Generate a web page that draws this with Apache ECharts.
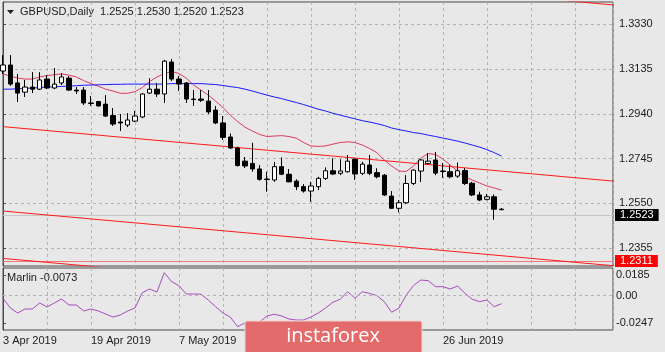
<!DOCTYPE html>
<html>
<head>
<meta charset="utf-8">
<title>GBPUSD Daily</title>
<script src="https://cdn.jsdelivr.net/npm/echarts@6/dist/echarts.min.js"></script>
<style>
  html, body { margin: 0; padding: 0; background: #e8e8e8; }
  #chart { width: 665px; height: 352px; }
</style>
</head>
<body>
<div id="chart"></div>
<script>
// daily bars, 3 Apr 2019 .. 8 Jul 2019
const dates = [
  '3 Apr 2019', '4 Apr 2019', '5 Apr 2019', '8 Apr 2019', '9 Apr 2019', '10 Apr 2019', '11 Apr 2019', '12 Apr 2019',
  '15 Apr 2019', '16 Apr 2019', '17 Apr 2019', '18 Apr 2019', '19 Apr 2019', '22 Apr 2019', '23 Apr 2019', '24 Apr 2019',
  '25 Apr 2019', '26 Apr 2019', '29 Apr 2019', '30 Apr 2019', '1 May 2019', '2 May 2019', '3 May 2019', '6 May 2019',
  '7 May 2019', '8 May 2019', '9 May 2019', '10 May 2019', '13 May 2019', '14 May 2019', '15 May 2019', '16 May 2019',
  '17 May 2019', '20 May 2019', '21 May 2019', '22 May 2019', '23 May 2019', '24 May 2019', '27 May 2019', '28 May 2019',
  '29 May 2019', '30 May 2019', '31 May 2019', '3 Jun 2019', '4 Jun 2019', '5 Jun 2019', '6 Jun 2019', '7 Jun 2019',
  '10 Jun 2019', '11 Jun 2019', '12 Jun 2019', '13 Jun 2019', '14 Jun 2019', '17 Jun 2019', '18 Jun 2019', '19 Jun 2019',
  '20 Jun 2019', '21 Jun 2019', '24 Jun 2019', '25 Jun 2019', '26 Jun 2019', '27 Jun 2019', '28 Jun 2019', '1 Jul 2019',
  '2 Jul 2019', '3 Jul 2019', '4 Jul 2019', '5 Jul 2019', '8 Jul 2019'
]

const open = [
  1.3126, 1.3152, 1.3074, 1.3034, 1.3056, 1.3047, 1.3091, 1.3052, 1.3074, 1.3095,
  1.3043, 1.3043, 1.2987, 1.2993, 1.2982, 1.2932, 1.2904, 1.2891, 1.2908, 1.2926,
  1.3030, 1.3047, 1.3026, 1.3165, 1.3091, 1.3074, 1.3004, 1.3004, 1.2995, 1.2956,
  1.2900, 1.2839, 1.2791, 1.2734, 1.2724, 1.2700, 1.2656, 1.2652, 1.2710, 1.2677,
  1.2647, 1.2623, 1.2604, 1.2623, 1.2659, 1.2692, 1.2681, 1.2688, 1.2742, 1.2681,
  1.2717, 1.2684, 1.2673, 1.2582, 1.2529, 1.2553, 1.2637, 1.2691, 1.2724, 1.2739,
  1.2691, 1.2688, 1.2669, 1.2693, 1.2638, 1.2587, 1.2568, 1.2579, 1.2525
]
const high = [
  1.3195, 1.3195, 1.3113, 1.3087, 1.3121, 1.3121, 1.3108, 1.3139, 1.3117, 1.3104,
  1.3056, 1.3056, 1.3017, 1.2995, 1.3021, 1.2965, 1.2939, 1.2943, 1.2952, 1.3030,
  1.3095, 1.3074, 1.3174, 1.3178, 1.3104, 1.3078, 1.3043, 1.3043, 1.3043, 1.2974,
  1.2930, 1.2854, 1.2797, 1.2752, 1.2814, 1.2717, 1.2688, 1.2731, 1.2750, 1.2700,
  1.2655, 1.2634, 1.2644, 1.2666, 1.2707, 1.2746, 1.2742, 1.2761, 1.2746, 1.2731,
  1.2761, 1.2703, 1.2678, 1.2604, 1.2565, 1.2673, 1.2698, 1.2743, 1.2769, 1.2774,
  1.2726, 1.2717, 1.2728, 1.2704, 1.2644, 1.2601, 1.2591, 1.2589, 1.2530
]
const low = [
  1.3113, 1.3061, 1.2991, 1.3013, 1.3030, 1.3043, 1.3047, 1.3047, 1.3065, 1.3039,
  1.3026, 1.2978, 1.2974, 1.2971, 1.2926, 1.2887, 1.2865, 1.2882, 1.2904, 1.2921,
  1.3026, 1.3013, 1.2987, 1.3082, 1.3039, 1.2987, 1.2974, 1.2991, 1.2939, 1.2895,
  1.2826, 1.2787, 1.2710, 1.2704, 1.2688, 1.2649, 1.2601, 1.2644, 1.2673, 1.2642,
  1.2608, 1.2597, 1.2557, 1.2608, 1.2652, 1.2673, 1.2673, 1.2684, 1.2652, 1.2673,
  1.2673, 1.2659, 1.2582, 1.2526, 1.2511, 1.2547, 1.2630, 1.2643, 1.2717, 1.2673,
  1.2661, 1.2659, 1.2661, 1.2630, 1.2582, 1.2560, 1.2563, 1.2479, 1.2520
]
const close = [
  1.3152, 1.3069, 1.3030, 1.3056, 1.3047, 1.3087, 1.3052, 1.3069, 1.3100, 1.3043,
  1.3039, 1.2987, 1.2985, 1.2974, 1.2930, 1.2895, 1.2900, 1.2913, 1.2930, 1.3026,
  1.3047, 1.3026, 1.3169, 1.3091, 1.3069, 1.3004, 1.3002, 1.2999, 1.2948, 1.2900,
  1.2837, 1.2791, 1.2715, 1.2713, 1.2700, 1.2655, 1.2654, 1.2710, 1.2677, 1.2644,
  1.2623, 1.2604, 1.2626, 1.2659, 1.2692, 1.2678, 1.2691, 1.2734, 1.2678, 1.2721,
  1.2681, 1.2666, 1.2587, 1.2529, 1.2553, 1.2637, 1.2695, 1.2739, 1.2734, 1.2682,
  1.2689, 1.2666, 1.2692, 1.2637, 1.2587, 1.2565, 1.2579, 1.2525, 1.2523
]

// moving averages as drawn on the chart
const maRed = [
  1.3113, 1.3104, 1.3095, 1.3091, 1.3091, 1.3100, 1.3106, 1.3110, 1.3113, 1.3108,
  1.3100, 1.3084, 1.3071, 1.3060, 1.3047, 1.3039, 1.3029, 1.3029, 1.3036, 1.3054,
  1.3080, 1.3100, 1.3115, 1.3124, 1.3115, 1.3095, 1.3065, 1.3043, 1.3021, 1.2995,
  1.2967, 1.2934, 1.2906, 1.2882, 1.2865, 1.2850, 1.2841, 1.2843, 1.2845, 1.2841,
  1.2834, 1.2815, 1.2800, 1.2798, 1.2800, 1.2808, 1.2815, 1.2818, 1.2815, 1.2804,
  1.2789, 1.2771, 1.2739, 1.2713, 1.2691, 1.2689, 1.2713, 1.2747, 1.2767, 1.2763,
  1.2743, 1.2717, 1.2691, 1.2665, 1.2652, 1.2639, 1.2626, 1.2617, 1.2608
]
const maBlue = [
  1.3047, 1.3047, 1.3049, 1.3050, 1.3052, 1.3054, 1.3056, 1.3057, 1.3059, 1.3060,
  1.3062, 1.3064, 1.3065, 1.3066, 1.3067, 1.3068, 1.3068, 1.3069, 1.3069, 1.3069,
  1.3069, 1.3069, 1.3069, 1.3071, 1.3071, 1.3071, 1.3071, 1.3071, 1.3069, 1.3067,
  1.3063, 1.3058, 1.3054, 1.3047, 1.3039, 1.3030, 1.3021, 1.3013, 1.3006, 1.2997,
  1.2989, 1.2980, 1.2970, 1.2960, 1.2952, 1.2942, 1.2934, 1.2926, 1.2918, 1.2910,
  1.2904, 1.2897, 1.2889, 1.2878, 1.2871, 1.2865, 1.2858, 1.2854, 1.2847, 1.2841,
  1.2834, 1.2828, 1.2821, 1.2813, 1.2804, 1.2795, 1.2784, 1.2771, 1.2756
]

const marlin = [
  -0.0024, -0.0112, -0.0157, -0.0121, -0.0121, -0.0067, -0.0103, -0.0067, -0.0031, -0.0085,
  -0.0085, -0.0139, -0.0121, -0.0139, -0.0166, -0.0193, -0.0175, -0.0139, -0.0112, 0.0026,
  0.0059, 0.0032, 0.0206, 0.0125, 0.0089, 0.0014, 0.0014, 0.0012, -0.0040, -0.0100,
  -0.0157, -0.0193, -0.0280, -0.0247, -0.0274, -0.0238, -0.0184, -0.0168, -0.0184, -0.0211,
  -0.0220, -0.0220, -0.0193, -0.0157, -0.0112, -0.0060, -0.0033, 0.0035, -0.0024, 0.0035,
  0.0019, -0.0001, -0.0055, -0.0150, -0.0114, 0.0005, 0.0091, 0.0140, 0.0134, 0.0080,
  0.0080, 0.0059, 0.0086, 0.0021, -0.0033, -0.0055, -0.0040, -0.0100, -0.0073
]

const priceTicks = [1.2355, 1.2550, 1.2745, 1.2940, 1.3135, 1.3330]
const marlinTicks = [-0.0247, 0, 0.0185]

// trend channel, price at bar 0 and bar 84
const trendBars = [0, 84]
const trendTop = [1.3650, 1.3411]
const trendUpper = [1.2884, 1.2645]
const trendLower = [1.2517, 1.2277]
const trendBottom = [1.2311, 1.2071]

const lastPrice = 1.2523
const levelPrice = 1.2311

const FONT = '"Liberation Sans", Arial, sans-serif'
const TEXT = '#1c1c1c'
const BORDER = '#4a4a4a'
const gridLine = { show: true, lineStyle: { color: '#b4b4b4', width: 1, type: [3, 3] } }
const X_MAX = 83.2

const last = dates.length - 1
const ohlcText = [open[last], high[last], low[last], close[last]].map((v) => v.toFixed(4)).join(' ')

function trendSeries(vals) {
  return {
    type: 'line',
    xAxisIndex: 0,
    yAxisIndex: 0,
    data: trendBars.map((b, k) => [b, vals[k]]),
    showSymbol: false,
    silent: true,
    z: 4,
    lineStyle: { color: '#ff1a1a', width: 1 },
  }
}

function levelLine(value, color, boxColor) {
  return {
    yAxis: value,
    lineStyle: { color: color, width: 1, type: 'solid' },
    label: {
      show: true,
      position: 'end',
      distance: 2,
      formatter: () => value.toFixed(4),
      color: '#ffffff',
      backgroundColor: boxColor,
      padding: [1, 5, 0, 5],
      fontSize: 11,
      fontFamily: FONT,
    },
  }
}

const chart = echarts.init(document.getElementById('chart'))

chart.setOption({
  animation: false,
  backgroundColor: '#e8e8e8',
  textStyle: { fontFamily: FONT },
  grid: [
    { left: 3, top: 2, width: 610, height: 264, show: true, borderColor: BORDER, borderWidth: 1, backgroundColor: 'transparent' },
    { left: 3, top: 268, width: 610, height: 62, show: true, borderColor: BORDER, borderWidth: 1, backgroundColor: 'transparent' },
  ],
  xAxis: [
    {
      gridIndex: 0, type: 'value', min: 0, max: X_MAX, interval: 6,
      axisLine: { show: false }, axisTick: { show: false }, axisLabel: { show: false },
      splitLine: gridLine,
    },
    {
      gridIndex: 1, type: 'value', min: 0, max: X_MAX, interval: 6,
      axisLine: { show: false }, axisTick: { show: false },
      axisLabel: {
        show: true, align: 'left', margin: 5, fontSize: 11, color: TEXT, fontFamily: FONT,
        showMinLabel: true, showMaxLabel: true,
        formatter: (v) => (Number.isInteger(v) && v % 12 === 0 && dates[v]) ? dates[v] : '',
      },
      splitLine: gridLine,
    },
  ],
  yAxis: [
    {
      gridIndex: 0, type: 'value', position: 'right', min: 1.2278, max: 1.3426,
      axisLine: { show: true, lineStyle: { color: BORDER } },
      axisTick: { show: true, length: 3, customValues: priceTicks, lineStyle: { color: BORDER } },
      axisLabel: {
        customValues: priceTicks, margin: 6, fontSize: 11, color: TEXT, fontFamily: FONT,
        formatter: (v) => v.toFixed(4),
      },
      splitLine: gridLine,
    },
    {
      gridIndex: 1, type: 'value', position: 'right', min: -0.0310, max: 0.0248,
      axisLine: { show: true, lineStyle: { color: BORDER } },
      axisTick: { show: true, length: 3, customValues: marlinTicks, lineStyle: { color: BORDER } },
      axisLabel: {
        customValues: marlinTicks, margin: 3, fontSize: 11, color: TEXT, fontFamily: FONT,
        formatter: (v) => (v === 0 ? '0.00' : v.toFixed(4)),
      },
      splitLine: { show: false },
    },
  ],
  series: [
    {
      // horizontal levels with their price boxes
      type: 'line',
      xAxisIndex: 0,
      yAxisIndex: 0,
      data: [],
      clip: false,
      z: 6,
      markLine: {
        silent: true,
        symbol: ['none', 'none'],
        animation: false,
        z: 1,
        data: [
          levelLine(lastPrice, '#c6c6c6', '#000000'),
          levelLine(levelPrice, '#f27a7a', '#ff0000'),
        ],
      },
    },
    trendSeries(trendTop),
    trendSeries(trendUpper),
    trendSeries(trendLower),
    trendSeries(trendBottom),
    {
      name: 'MA red',
      type: 'line',
      xAxisIndex: 0,
      yAxisIndex: 0,
      data: maRed.map((v, i) => [i, v]),
      showSymbol: false,
      silent: true,
      z: 3,
      lineStyle: { color: '#e03a5c', width: 1 },
    },
    {
      name: 'MA blue',
      type: 'line',
      xAxisIndex: 0,
      yAxisIndex: 0,
      data: maBlue.map((v, i) => [i, v]),
      showSymbol: false,
      silent: true,
      z: 3,
      lineStyle: { color: '#1a1aff', width: 1 },
    },
    {
      name: 'GBPUSD',
      type: 'candlestick',
      xAxisIndex: 0,
      yAxisIndex: 0,
      data: dates.map((d, i) => [i, open[i], close[i], low[i], high[i]]),
      encode: { x: 0, y: [1, 2, 3, 4] },
      barWidth: 5,
      z: 5,
      itemStyle: {
        color: '#ffffff',
        color0: '#000000',
        borderColor: '#000000',
        borderColor0: '#000000',
        borderWidth: 1,
      },
    },
    {
      name: 'Marlin',
      type: 'line',
      xAxisIndex: 1,
      yAxisIndex: 1,
      data: marlin.map((v, i) => [i, v]),
      showSymbol: false,
      silent: true,
      lineStyle: { color: '#a64bbd', width: 1 },
      markLine: {
        silent: true,
        symbol: ['none', 'none'],
        label: { show: false },
        lineStyle: { color: '#b4b4b4', width: 1, type: [3, 3] },
        data: [{ yAxis: 0 }],
      },
    },
  ],
  graphic: [
    { type: 'polygon', shape: { points: [[7, 10], [14, 10], [10.5, 14]] }, style: { fill: TEXT } },
    {
      type: 'text', left: 20, top: 6,
      style: { text: 'GBPUSD,Daily  ' + ohlcText, fill: TEXT, font: '11px ' + FONT },
    },
    {
      type: 'text', left: 7, top: 272,
      style: { text: 'Marlin ' + marlin[last].toFixed(4), fill: TEXT, font: '11px ' + FONT },
    },
    {
      type: 'rect', zlevel: 1, z: 100,
      shape: { x: 245, y: 321, width: 177, height: 34, r: 2 },
      style: { fill: '#e36b6c', stroke: '#f1d2d2', lineWidth: 1 },
    },
    {
      type: 'text', zlevel: 1, z: 101, x: 333, y: 336,
      style: { text: 'instaforex', fill: '#ffffff', font: '20px "Open Sans", sans-serif', align: 'center', verticalAlign: 'middle' },
    },
  ],
})

window.addEventListener('resize', () => chart.resize())
</script>
</body>
</html>
